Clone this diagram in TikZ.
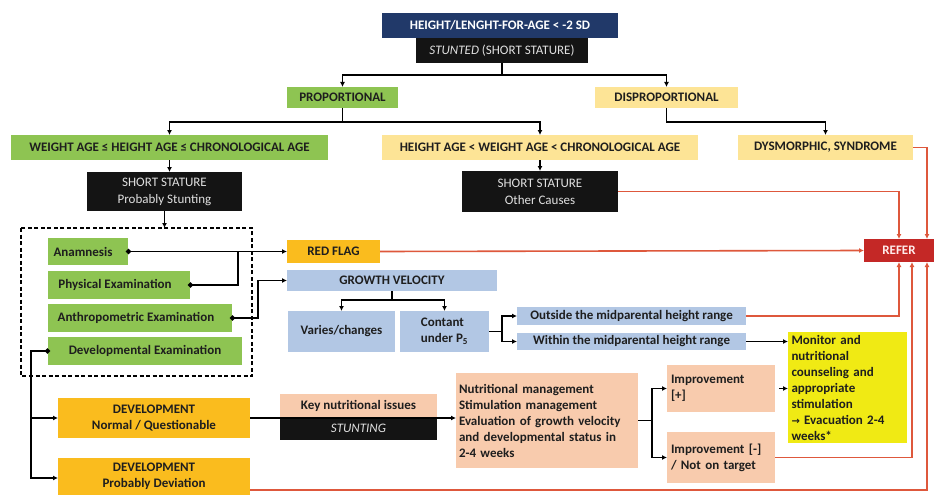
\documentclass[tikz,border=0pt]{standalone}
\usepackage{fontspec}
\setmainfont{Carlito}
\newfontfamily\djv{DejaVu Sans}
\usetikzlibrary{arrows.meta}
\definecolor{navyc}{RGB}{33,57,105}
\definecolor{blackc}{RGB}{20,20,20}
\definecolor{greenc}{RGB}{142,196,82}
\definecolor{lyellow}{RGB}{253,228,150}
\definecolor{orangec}{RGB}{250,188,30}
\definecolor{bluec}{RGB}{178,199,228}
\definecolor{peachc}{RGB}{248,203,173}
\definecolor{byellow}{RGB}{240,234,20}
\definecolor{referc}{RGB}{196,40,38}
\definecolor{redline}{RGB}{222,88,60}
\definecolor{txt}{RGB}{30,30,30}
\newcommand\mybox[7]{\node[bxs,#6,minimum width={(#4-#2)*1pt},minimum height={(#5-#3)*1pt}] (#1) at ({(#2+#4)/2},{(#3+#5)/2}) {#7};}
\tikzset{
  bxs/.style={inner sep=1.5pt,outer sep=0pt,anchor=center,text=txt,font=\fontsize{13}{16}\selectfont\bfseries},
  dk/.style={fill=blackc,text=white!88!black,font=\fontsize{13}{17}\selectfont},
  conn/.style={line width=1.6pt,draw=black},
  arr/.style={conn,-{Latex[length=5pt,width=5pt]}},
  rarr/.style={line width=1.6pt,draw=redline,-{Latex[length=5pt,width=5pt]}},
  dotarr/.style={conn,{Circle[length=5pt]}-{Latex[length=5pt,width=5pt]}},
  dotln/.style={conn,{Circle[length=5pt]}-},
}
\begin{document}
\begin{tikzpicture}[x=1pt,y=-1pt]
\useasboundingbox[fill=white] (0,0) rectangle (938,495);
% top
\mybox{top}{382}{13}{618}{38}{fill=navyc,text=white}{HEIGHT/LENGHT-FOR-AGE < -2 SD}
\mybox{stunted}{416}{38}{588}{63}{dk}{\textit{STUNTED} (SHORT STATURE)}
\mybox{prop}{287}{87}{398}{108}{fill=greenc}{PROPORTIONAL}
\mybox{disprop}{595}{87}{738}{108}{fill=lyellow}{DISPROPORTIONAL}
\mybox{wage}{11}{135}{328}{160}{fill=greenc}{WEIGHT AGE ≤ HEIGHT AGE ≤ CHRONOLOGICAL AGE}
\mybox{hage}{382}{135}{698}{160}{fill=lyellow}{HEIGHT AGE < WEIGHT AGE < CHRONOLOGICAL AGE}
\mybox{dysm}{738}{135}{913}{160}{fill=lyellow}{DYSMORPHIC, SYNDROME}
\mybox{ssps}{87}{172}{242}{211}{dk,align=center}{SHORT STATURE\\Probably Stunting}
\mybox{ssoc}{462}{171}{618}{212}{dk,align=center}{SHORT STATURE\\Other Causes}
% dashed group
\draw[line width=1.7pt,dash pattern=on 4pt off 2.5pt] (21,228) rectangle (252,376);
\coordinate (dtop) at (164.5,228);
\mybox{anam}{48}{238}{128}{265}{fill=greenc}{Anamnesis\hspace*{10pt}}
\mybox{phys}{48}{271}{190}{299}{fill=greenc}{Physical Examination\hspace*{8pt}}
\mybox{anth}{48}{304}{232}{332}{fill=greenc}{Anthropometric Examination\hspace*{8pt}}
\mybox{devx}{48}{337}{242}{365}{fill=greenc}{Developmental Examination}
% middle
\mybox{redflag}{287}{240}{380}{263}{fill=orangec}{RED FLAG}
\mybox{gv}{287}{270}{497}{291}{fill=bluec}{GROWTH VELOCITY}
\mybox{varies}{288}{311}{395}{352}{fill=bluec}{Varies/changes}
\mybox{contant}{400}{311}{489}{352}{fill=bluec,align=left}{Contant\\under P\textsubscript{5}}
\mybox{outside}{517}{307}{746}{325}{fill=bluec}{Outside the midparental height range}
\mybox{within}{517}{333}{746}{350}{fill=bluec}{Within the midparental height range}
\mybox{refer}{864}{239}{934}{262}{fill=referc,text=white!92!red}{REFER}
\mybox{monitor}{788}{332}{907}{443}{fill=byellow,align=left,text width=112pt,inner xsep=3.5pt,inner ysep=1pt}{Monitor and\\nutritional\\counseling and\\appropriate\\stimulation\\{\djv\fontsize{10}{16}\selectfont →} Evacuation 2-4\\weeks*}
% bottom
\mybox{devn}{58}{398}{250}{438}{fill=orangec,align=center}{DEVELOPMENT\\Normal / Questionable}
\mybox{devp}{58}{458}{250}{495}{fill=orangec,align=center}{DEVELOPMENT\\Probably Deviation}
\mybox{key}{280}{394}{437}{417}{fill=peachc}{Key nutritional issues}
\mybox{stunting}{280}{417}{437}{440}{dk}{\textit{STUNTING}}
\mybox{nutr}{456}{373}{638}{468}{fill=peachc,align=left,text width=176pt,inner xsep=3pt}{Nutritional management\\Stimulation management\\Evaluation of growth velocity\\and developmental status in\\2-4 weeks}
\mybox{impp}{667}{365}{775}{412}{fill=peachc,align=left,text width=100pt,inner xsep=4pt}{Improvement\\{[+]}}
\mybox{impm}{667}{432}{775}{483}{fill=peachc,align=left,text width=100pt,inner xsep=4pt}{Improvement [-]\\/ Not on target}
% black connectors
\draw[arr] (stunted.south) -- (stunted.south |- 0,75) -| (prop.north);
\draw[arr] (stunted.south) -- (stunted.south |- 0,75) -| (disprop.north);
\draw[arr] (prop.south) -- (prop.south |- 0,122) -| (wage.north);
\draw[arr] (prop.south) -- (prop.south |- 0,122) -| (hage.north);
\draw[arr] (disprop.south) -- (disprop.south |- 0,122) -| (dysm.north);
\draw[arr] (wage.south) -- (wage.south |- ssps.north);
\draw[arr] (hage.south) -- (hage.south |- ssoc.north);
\draw[arr] (ssps.south) -- (dtop);
\draw[dotarr] ([xshift=-2pt]anam.east) -- (redflag.west);
\draw[dotln] ([xshift=-2pt]phys.east) -| (238,251.5);
\draw[dotarr] ([xshift=-2pt]anth.east) -- (258,318) |- (gv.west);
\draw[dotln] ([xshift=2pt]devx.west) -- (31,351) -- (31,418);
\draw[arr] (31,418) -- (devn.west);
\draw[arr] (31,418) |- (devp.west |- 0,478);
\draw[arr] (gv.south) -- (gv.south |- 0,300) -| (varies.north);
\draw[arr] (gv.south) -- (gv.south |- 0,300) -| (contant.north);
\draw[conn] (contant.east) -- (502,331.5);
\draw[arr] (502,331.5) |- (outside.west);
\draw[arr] (502,331.5) |- (within.west);
\draw[arr] (within.east) -- (within.east -| monitor.west);
\draw[arr] (devn.east) -- (devn.east -| nutr.west);
\draw[conn] (nutr.east) -- (652,420.5);
\draw[arr] (652,420.5) |- (impp.west);
\draw[arr] (652,420.5) |- (impm.west);
\draw[arr] ([xshift=4pt]impp.east) -- (impp.east -| monitor.west);
% red connectors
\draw[rarr] (dysm.east) -- (dysm.east -| 927,0) -- ([xshift=-7pt]refer.north east);
\draw[rarr] (ssoc.east) -| (refer.north);
\draw[rarr] (redflag.east) -- (refer.west);
\draw[rarr] (outside.east) -| (refer.south);
\draw[rarr] (impm.east) -| ([xshift=13pt]refer.south);
\draw[rarr] (devp.east |- 0,490) -| ([xshift=-7pt]refer.south east);
\end{tikzpicture}
\end{document}
